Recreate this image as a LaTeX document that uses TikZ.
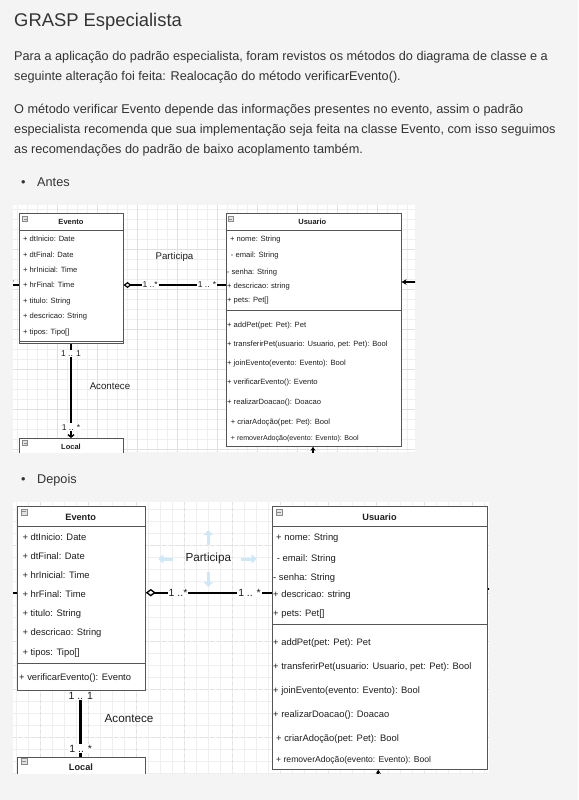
\documentclass[tikz,border=0pt]{standalone}
\usepackage{fontspec}
\setmainfont{Liberation Sans}
\usetikzlibrary{arrows.meta}
\definecolor{pagebg}{HTML}{F4F4F4}
\definecolor{txt}{HTML}{333333}
\definecolor{dtxt}{HTML}{1E1E1E}
\definecolor{boxc}{HTML}{555555}
\definecolor{gridc}{HTML}{EFEFEF}
\definecolor{gridm}{HTML}{E0E0E0}
\definecolor{hint}{HTML}{CDE8F7}
\definecolor{iconf}{HTML}{E4E4E4}
\definecolor{icond}{HTML}{8A8A8A}
\begin{document}
\begin{tikzpicture}[x=1pt,y=-1pt,
  bodytext/.style={anchor=base west,inner sep=0,text=txt,font=\fontsize{12.7}{15}\selectfont},
  umlbox/.style={draw=boxc,line width=0.8pt,fill=white,inner sep=0,anchor=north west},
  sepline/.style={draw=boxc,line width=0.8pt},
  rowA/.style={anchor=west,inner sep=0,text=dtxt,font=\fontsize{7.6}{9}\selectfont,text height=5.4pt,text depth=0pt},
  rowAs/.style={rowA,font=\fontsize{7.1}{9}\selectfont},
  rowD/.style={anchor=west,inner sep=0,text=dtxt,font=\fontsize{9.4}{11}\selectfont,text height=6.7pt,text depth=0pt},
  rowDs/.style={rowD,font=\fontsize{8.6}{10}\selectfont},
  hdA/.style={inner sep=0,text=dtxt,font=\bfseries\fontsize{7.5}{9}\selectfont,text height=5.4pt,text depth=0pt},
  hdD/.style={inner sep=0,text=dtxt,font=\bfseries\fontsize{9.2}{11}\selectfont,text height=6.6pt,text depth=0pt},
  lblA/.style={fill=white,inner xsep=1pt,inner ysep=1pt,text=dtxt,font=\fontsize{8.5}{10}\selectfont},
  lblD/.style={fill=white,inner xsep=1pt,inner ysep=1pt,text=dtxt,font=\fontsize{10.5}{12}\selectfont},
  nameA/.style={inner sep=0,text=dtxt,font=\fontsize{9.7}{11}\selectfont},
  nameD/.style={inner sep=0,text=dtxt,font=\fontsize{11.7}{13}\selectfont},
  iconA/.style={draw=icond,fill=iconf,line width=0.4pt,minimum size=5pt,inner sep=0,
     path picture={\draw[icond,line width=0.6pt] ([xshift=1pt]path picture bounding box.west) -- ([xshift=-1pt]path picture bounding box.east);}},
  iconD/.style={iconA,minimum size=6pt},
  assocA/.style={draw=black,line width=2pt},
  assocD/.style={draw=black,line width=2.2pt},
  hintarrow/.style={draw=hint,line width=3pt,-{Triangle[length=5pt,width=9pt]}}
]
\useasboundingbox (0,0) rectangle (578,800);
\fill[pagebg] (0,0) rectangle (578,800);

% ---------- text ----------
\node[anchor=base west,inner sep=0,text=txt,font=\fontsize{18.4}{22}\selectfont] (title) at (14,26.7) {GRASP Especialista};
\node[bodytext] (p1a) at (14,60.7) {Para a aplicação do padrão especialista, foram revistos os métodos do diagrama de classe e a};
\node[bodytext] (p1b) at (14,80.5) {seguinte alteração foi feita: Realocação do método verificarEvento().};
\node[bodytext] (p2a) at (14,113) {O método verificar Evento depende das informações presentes no evento, assim o padrão};
\node[bodytext] (p2b) at (14,133) {especialista recomenda que sua implementação seja feita na classe Evento, com isso seguimos};
\node[bodytext] (p2c) at (14,153) {as recomendações do padrão de baixo acoplamento também.};
\node[bodytext] (b1) at (21,186.5) {•};
\node[bodytext] (antes) at (37,186.5) {Antes};
\node[bodytext] (b2) at (21,483.5) {•};
\node[bodytext] (depois) at (37,483.5) {Depois};

% ---------- ANTES ----------
\begin{scope}
\clip (13,205) rectangle (415,452);
\fill[white] (13,205) rectangle (415,452);
\foreach \x in {17,27,...,415} \draw[gridc,line width=0.5pt] (\x,205) -- (\x,452);
\foreach \y in {209,219,...,452} \draw[gridc,line width=0.5pt] (13,\y) -- (415,\y);
\foreach \x in {57,97,...,415} \draw[gridm,line width=0.5pt] (\x,205) -- (\x,452);
\foreach \y in {249,289,...,452} \draw[gridm,line width=0.5pt] (13,\y) -- (415,\y);

% Evento
\node[umlbox,minimum width=103.4pt,minimum height=130pt] (evA) at (19.3,213.3) {};
\draw[sepline] (19.3,230) -- (122.7,230);
\draw[sepline] (19.3,341.6) -- (122.7,341.6);
\node[iconA] (evAi) at (25,219) {};
\node[hdA] (evAh) at (71,222) {Evento};
\node[rowA] (evA1) at (23,239) {+ dtInicio: Date};
\node[rowA] (evA2) at (23,254.5) {+ dtFinal: Date};
\node[rowA] (evA3) at (23,270) {+ hrInicial: Time};
\node[rowA] (evA4) at (23,285) {+ hrFinal: Time};
\node[rowA] (evA5) at (23,300.5) {+ titulo: String};
\node[rowA] (evA6) at (23,316) {+ descricao: String};
\node[rowA] (evA7) at (23,332) {+ tipos: Tipo[]};

% Usuario
\node[umlbox,minimum width=174.7pt,minimum height=232.7pt] (usA) at (226,213.3) {};
\draw[sepline] (226,230) -- (400.7,230);
\draw[sepline] (226,310) -- (400.7,310);
\node[iconA] (usAi) at (230.7,219) {};
\node[hdA] (usAh) at (312.3,222) {Usuario};
\node[rowA] (usA1) at (230,239) {+ nome: String};
\node[rowA] (usA2) at (230.7,255) {- email: String};
\node[rowA] (usA3) at (226.7,271.7) {- senha: String};
\node[rowA] (usA4) at (227,286) {+ descricao: string};
\node[rowA] (usA5) at (227,300) {+ pets: Pet[]};
\node[rowA] (usA6) at (227,325) {+ addPet(pet: Pet): Pet};
\node[rowA] (usA7) at (227,343.7) {+ transferirPet(usuario: Usuario, pet: Pet): Bool};
\node[rowA] (usA8) at (227,363) {+ joinEvento(evento: Evento): Bool};
\node[rowA] (usA9) at (227,382) {+ verificarEvento(): Evento};
\node[rowA] (usA10) at (227,401.7) {+ realizarDoacao(): Doacao};
\node[rowA] (usA11) at (230.7,421.7) {+ criarAdoção(pet: Pet): Bool};
\node[rowAs] (usA12) at (230.7,438) {+ removerAdoção(evento: Evento): Bool};

% Local
\node[umlbox,minimum width=103.4pt,minimum height=30pt] (loA) at (19.3,438) {};
\node[iconA] (loAi) at (25,443) {};
\node[hdA] (loAh) at (71,447) {Local};

% connectors
\draw[assocA,{Diamond[open,length=8pt,width=6pt,line width=1.2pt]}-] (evA.east |- 0,285)
   -- node[lblA,pos=0.26] (mA1) {1 ..*} node[lblA,pos=0.815] (mA2) {1 .. *} (usA.west |- 0,285);
\node[nameA] (parA) at (174.5,257) {Participa};
\coordinate (stubAl) at (12,285);
\draw[assocA] (stubAl) -- (evA.west |- 0,285);
\node[lblA,fill=none] (mA0) at (12.5,283) {*};
\coordinate (stubAr) at (416,282);
\draw[assocA,-{Stealth[length=5pt,width=5.5pt]}] (stubAr) -- (usA.east |- 0,282);
\coordinate (stubAb) at (313,458);
\draw[assocA,-{Stealth[length=4pt,width=5pt]}] (stubAb) -- (usA.south -| 313,0);
\draw[assocA,-{Straight Barb[length=2.5pt,width=6pt,line width=1.4pt]}] (evA.south -| 71,0)
   -- node[lblA,pos=0.10] (mA3) {1 .. 1} node[lblA,pos=0.885] (mA4) {1 .. *} (loA.north -| 71,0);
\node[nameA] (acA) at (110,386) {Acontece};
\end{scope}

% ---------- DEPOIS ----------
\begin{scope}
\clip (13,502) rectangle (489,773);
\fill[white] (13,502) rectangle (489,773);
\foreach \x in {16,28,...,489} \draw[gridc,line width=0.5pt] (\x,502) -- (\x,773);
\foreach \y in {509,521,...,773} \draw[gridc,line width=0.5pt] (13,\y) -- (489,\y);
\foreach \x in {40,88,...,489} \draw[gridm,line width=0.5pt,dashed] (\x,502) -- (\x,773);
\foreach \y in {545,593,...,773} \draw[gridm,line width=0.5pt,dashed] (13,\y) -- (489,\y);

% Evento
\node[umlbox,minimum width=127.7pt,minimum height=184.3pt] (evD) at (17.3,505.7) {};
\draw[sepline] (17.3,526.7) -- (145,526.7);
\draw[sepline] (17.3,663.3) -- (145,663.3);
\node[iconD] (evDi) at (24,511.7) {};
\node[hdD] (evDh) at (80.7,516.7) {Evento};
\node[rowD] (evD1) at (22.3,537.3) {+ dtInicio: Date};
\node[rowD] (evD2) at (22.3,556.3) {+ dtFinal: Date};
\node[rowD] (evD3) at (22.3,575) {+ hrInicial: Time};
\node[rowD] (evD4) at (22.3,594) {+ hrFinal: Time};
\node[rowD] (evD5) at (22.3,613.3) {+ titulo: String};
\node[rowD] (evD6) at (22.3,632.3) {+ descricao: String};
\node[rowD] (evD7) at (22.3,651.7) {+ tipos: Tipo[]};
\node[rowD] (evD8) at (19,676.7) {+ verificarEvento(): Evento};

% Usuario
\node[umlbox,minimum width=214.4pt,minimum height=263.3pt] (usD) at (272.3,505.7) {};
\draw[sepline] (272.3,526.7) -- (486.7,526.7);
\draw[sepline] (272.3,624.3) -- (486.7,624.3);
\node[iconD] (usDi) at (279,512) {};
\node[hdD] (usDh) at (379.5,516.7) {Usuario};
\node[rowD] (usD1) at (276,537.3) {+ nome: String};
\node[rowD] (usD2) at (276.7,557.7) {- email: String};
\node[rowD] (usD3) at (273,577.3) {- senha: String};
\node[rowD] (usD4) at (273,594.3) {+ descricao: string};
\node[rowD] (usD5) at (273,613) {+ pets: Pet[]};
\node[rowD] (usD6) at (273,642.3) {+ addPet(pet: Pet): Pet};
\node[rowD] (usD7) at (273,666) {+ transferirPet(usuario: Usuario, pet: Pet): Bool};
\node[rowD] (usD8) at (273,690) {+ joinEvento(evento: Evento): Bool};
\node[rowD] (usD9) at (273,714) {+ realizarDoacao(): Doacao};
\node[rowD] (usD10) at (276,738.3) {+ criarAdoção(pet: Pet): Bool};
\node[rowDs] (usD11) at (276,759) {+ removerAdoção(evento: Evento): Bool};

% Local
\node[umlbox,minimum width=127.7pt,minimum height=30pt] (loD) at (17.3,756.7) {};
\node[iconD] (loDi) at (24,761) {};
\node[hdD] (loDh) at (81,766.7) {Local};

% connectors
\draw[assocD,{Diamond[open,length=10pt,width=7.5pt,line width=1.3pt]}-] (evD.east |- 0,592.7)
   -- node[lblD,pos=0.255] (mD1) {1 ..*} node[lblD,pos=0.82] (mD2) {1 .. *} (usD.west |- 0,592.7);
\node[nameD] (parD) at (208.3,558.3) {Participa};
\draw[hintarrow] (208.3,545) -- (208.3,530);
\draw[hintarrow] (208.3,572) -- (208.3,587);
\draw[hintarrow] (173.3,559) -- (158.3,559);
\draw[hintarrow] (241,559) -- (256.7,559);
\coordinate (stubDl) at (12,592.7);
\draw[assocD] (stubDl) -- (evD.west |- 0,592.7);
\coordinate (stubDr) at (491,589);
\draw[assocD] (stubDr) -- (usD.east |- 0,589);
\coordinate (stubDb) at (378.3,780);
\draw[assocD,-{Stealth[length=4pt,width=5pt]}] (stubDb) -- (usD.south -| 378.3,0);
\draw[draw=black,line width=3pt] (evD.south -| 80.7,0)
   -- node[lblD,pos=0.075] (mD3) {1 .. 1} node[lblD,pos=0.874] (mD4) {1 .. *} (loD.north -| 80.7,0);
\node[nameD] (acD) at (129,719) {Acontece};
\end{scope}
\end{tikzpicture}
\end{document}
